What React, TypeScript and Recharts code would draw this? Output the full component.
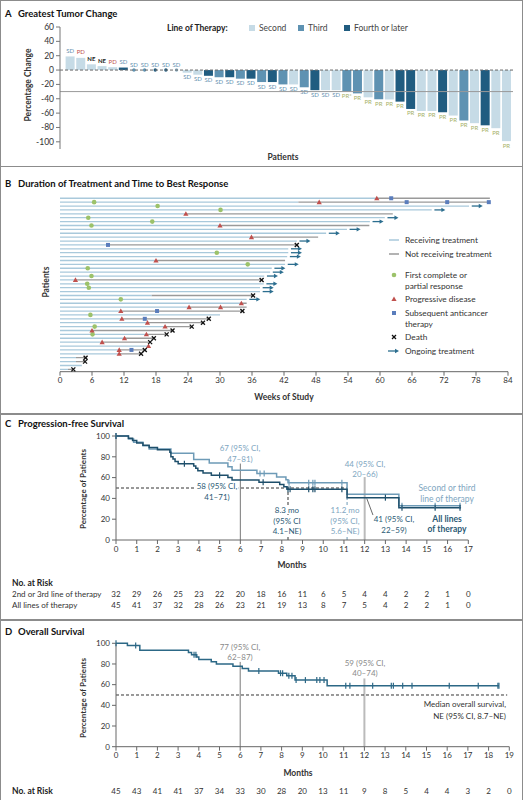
import React from "react";
import {
  BarChart,
  Bar,
  XAxis,
  YAxis,
  ReferenceLine,
  ComposedChart,
  Line,
  Scatter,
} from "recharts";

const FONT = "Lato, 'Open Sans', sans-serif";

// ---------- A: greatest tumor change ----------
const tumorChange = [
  19, 17, 8, 5.5, 4, 3.5, 0, 0, 0, 0, 0, -3.7, -6.5, -8, -10, -10, -12, -12, -16.7, -16.7, -20,
  -20, -24, -28, -28, -28, -30, -32.5, -38, -40.7, -41, -44, -54.2, -57, -57, -58.8, -63.4, -70.3,
  -74, -77, -81, -99,
];
const therapyLine = [
  2, 2, 2, 2, 2, 4, 3, 3, 4, 4, 2, 2, 2, 4, 3, 4, 3, 4, 3, 4, 3, 2, 3, 4, 2, 2, 3, 3, 2, 3, 2, 4, 4,
  2, 2, 4, 2, 3, 2, 4, 2, 2,
];
const bestResponse = [
  "SD", "PD", "NE", "NE", "PD", "SD", "SD", "SD", "SD", "SD", "SD", "SD", "SD", "SD", "SD", "SD",
  "SD", "SD", "SD", "SD", "SD", "SD", "SD", "SD", "SD", "SD", "PR*", "PR", "PR", "PR", "PR", "PR",
  "PR", "PR", "PR", "PR", "PR", "PR", "PR", "PR", "PR", "PR",
];
const changeTicks = [-100, -80, -60, -40, -20, 0, 20, 40, 60];

// ---------- B: duration of treatment ----------
const onTreatment = [
  59.4, 44.7, 76.7, 69.7, 23.6, 60.9, 58.1, 30, 53.8, 49.9, 35.9, 44.4, 9, 42.8, 42.8, 42.6, 18,
  42.2, 39.7, 39.4, 38.3, 2.9, 38.2, 37.5, 37.5, 17.2, 35, 34, 24.2, 11.4, 30, 11.6, 16.4, 19.7, 6,
  16.2, 12.1, 7.9, 16.6, 11.1, 11.1, 3, 3, 4.1, 1.5,
];
const lastFollowUp = [
  80.6, 80.4, 76.7, 69.7, 62.4, 60.9, 58.1, 58, 53.8, 49.9, 48.4, 44.4, 44.4, 42.8, 42.8, 42.6,
  42.2, 42.2, 39.7, 39.4, 38.3, 37.8, 38.2, 37.5, 37.5, 36.2, 35, 35, 35, 34.2, 30, 27.9, 26.8,
  24.7, 21.1, 20, 17.6, 16.9, 16.6, 15.9, 15.2, 4.8, 4.7, 4.1, 2.5,
];
const ongoingRows = [2, 3, 5, 6, 8, 9, 11, 13, 14, 15, 17, 18, 19, 20, 22, 23, 24, 26];
const responseRows = [1, 2, 3, 5, 6, 7, 14, 17, 18, 20, 22, 23, 26, 30, 33, 35];
const responseWeeks = [6.4, 18.3, 30.1, 5.3, 17.3, 5.9, 29.4, 35.2, 5.2, 5.9, 5.1, 5.4, 11.4, 5.7, 6.5, 6.1];
const progressionRows = [0, 1, 4, 7, 10, 16, 21, 27, 28, 28, 29, 31, 32, 33, 34, 35, 36, 37, 38, 39, 40];
const progressionWeeks = [
  59.4, 48.6, 23.6, 30, 35.9, 18, 2.9, 34, 24.2, 30.1, 11.4, 11.6, 16.4, 19.7, 6, 16.2, 12.1, 7.9,
  16.6, 11.1, 11.1,
];
const therapyRows = [0, 1, 1, 1, 12, 29, 31, 39];
const therapyWeeks = [62.1, 65, 72.6, 80.4, 9, 18.2, 15.9, 13.4];
const deathRows = [12, 21, 25, 29, 31, 32, 33, 34, 35, 36, 37, 39, 40, 41, 42, 44];
const deathWeeks = [44.4, 37.8, 36.2, 34.2, 27.9, 26.8, 24.7, 21.1, 20, 17.6, 16.9, 15.9, 15.2, 4.8, 4.7, 2.5];
const weekTicks = [0, 6, 12, 18, 24, 30, 36, 42, 48, 54, 60, 66, 72, 78, 84];

// ---------- C: progression-free survival ----------
const pfs23Times = [0, 0.6, 0.85, 1.3, 1.6, 2.65, 3.75, 4.5, 5.4, 5.6, 6.8, 7.75, 8.2, 8.3, 11.15, 13.65, 16.65];
const pfs23Surv = [100, 97, 94, 90.6, 87.5, 83.5, 77.5, 74, 70.5, 67, 64, 60.5, 58, 55, 44, 33, 33];
const pfs23Censor = [0, 6.95, 7.15, 8.35, 9.3, 9.5, 9.6, 10.9, 13.8, 15.4, 16.6];
const pfsAllTimes = [
  0, 0.6, 0.8, 1.0, 1.3, 1.6, 2.0, 2.6, 2.65, 2.75, 2.85, 3.0, 3.75, 3.85, 3.95, 4.2, 4.6, 5.4, 5.6,
  6.9, 7.9, 8.1, 8.25, 11.15, 13.65, 16.65,
];
const pfsAllSurv = [
  100, 97.8, 95.6, 93.3, 91.1, 88.9, 86.7, 84.4, 80, 77.8, 75.6, 73.3, 71.1, 68.9, 66.7, 64.4, 62.2,
  60, 57.8, 55.6, 53.3, 51.1, 48.9, 40.7, 31, 31,
];
const pfsAllCensor = [0, 3.3, 5.0, 7.1, 8.3, 8.4, 9.3, 9.5, 9.6, 10.9, 13.0, 13.8, 15.4, 16.6];
const pfsMonths = [0, 1, 2, 3, 4, 5, 6, 7, 8, 9, 10, 11, 12, 13, 14, 15, 16, 17];
const pfsRisk23 = [32, 29, 26, 25, 23, 22, 20, 18, 16, 11, 6, 5, 4, 4, 2, 2, 1, 0];
const pfsRiskAll = [45, 41, 37, 32, 28, 26, 23, 21, 19, 13, 8, 7, 5, 4, 2, 2, 1, 0];

// ---------- D: overall survival ----------
const osTimes = [0, 0.55, 1.15, 3.5, 3.65, 3.9, 4.0, 4.6, 4.85, 5.65, 6.1, 6.4, 7.85, 8.25, 8.65, 10.2, 18.5];
const osSurv = [100, 97.8, 93.3, 91.1, 88.9, 86.7, 84.4, 82.2, 80, 77.8, 75.6, 73.3, 71.1, 68.5, 64.4, 59, 59];
const osCensor = [
  0, 0.95, 3.77, 3.86, 6.9, 7.95, 8.05, 8.35, 8.5, 8.7, 9.15, 9.7, 9.85, 10.05, 11.1, 11.3, 12.4,
  13.3, 13.4, 13.85, 14.3, 16.1, 17.5, 18.45, 18.5,
];
const osMonths = [0, 1, 2, 3, 4, 5, 6, 7, 8, 9, 10, 11, 12, 13, 14, 15, 16, 17, 18, 19];
const osRisk = [45, 43, 41, 41, 37, 34, 33, 30, 28, 20, 13, 11, 9, 8, 5, 4, 4, 3, 2, 0];
const pctTicks = [0, 20, 40, 60, 80, 100];

// ---------- colours ----------
const lineColors: Record<number, string> = { 2: "#c6dbe6", 3: "#5e92b2", 4: "#205c80" };
const RECV = "#a9c9db";
const OFF = "#9a9a9a";
const GREEN = "#9cc26a";
const RED = "#c0504d";
const BLUE = "#5a7dbc";
const ARROW = "#2c6e8f";
const LIGHT = "#6e9bb7";
const DARK = "#1e4f6b";
const LIGHT_TXT = "#7ea6bf";
const DARK_TXT = "#2b5a75";
const AXIS = "#666";

const tick = { fontSize: 8, fill: "#333", fontFamily: FONT };

type TxtProps = {
  x: number;
  y: number;
  children: React.ReactNode;
  align?: "left" | "center" | "right";
  size?: number;
  color?: string;
  bold?: boolean;
  rotate?: boolean;
  bg?: boolean;
};

const Txt = ({ x, y, children, align = "left", size = 8, color = "#333", bold = false, rotate = false, bg = false }: TxtProps) => {
  const tx = align === "center" ? "-50%" : align === "right" ? "-100%" : "0";
  return (
    <div
      style={{
        position: "absolute",
        left: x,
        top: y,
        transform: rotate ? "translate(-50%,-50%) rotate(-90deg)" : `translate(${tx},-50%)`,
        fontSize: size,
        fontWeight: bold ? 700 : 400,
        color,
        whiteSpace: "nowrap",
        lineHeight: 1,
        fontFamily: FONT,
        background: bg ? "#fff" : "transparent",
        padding: bg ? "0 1px" : 0,
      }}
    >
      {children}
    </div>
  );
};

const Title = ({ y, letter, text }: { y: number; letter: string; text: string }) => (
  <>
    <Txt x={5} y={y} size={9.5} bold color="#111">
      {letter}
    </Txt>
    <Txt x={18} y={y} size={9.5} bold color="#111">
      {text}
    </Txt>
  </>
);

// ---------- panel A ----------
const tumorData = tumorChange.map((v, i) => ({
  id: i + 1,
  value: v,
  line: therapyLine[i],
  resp: bestResponse[i],
}));

const respColor = (r: string) =>
  r === "PD" ? RED : r === "NE" ? "#222" : r.startsWith("PR") ? "#a6b168" : "#6491b0";

const TumorBar = (p: any) => {
  const { x, y, width, height, payload } = p;
  const top = Math.min(y, y + height);
  const bottom = Math.max(y, y + height);
  const cx = x + width / 2;
  const fill = lineColors[payload.line];
  const r = payload.resp;
  const ly = payload.value < 0 ? bottom + 6.5 : top - 3.5;
  return (
    <g>
      {bottom - top > 0 && <rect x={x} y={top} width={width} height={bottom - top} fill={fill} />}
      {payload.value === 0 && <circle cx={cx} cy={top} r={1.7} fill={payload.line === 2 ? "#8fb3c8" : fill} />}
      <text
        x={cx}
        y={ly}
        textAnchor="middle"
        fontSize={6}
        fontWeight={r === "NE" ? 700 : 400}
        fill={respColor(r)}
        fontFamily={FONT}
      >
        {r}
      </text>
    </g>
  );
};

const PanelA = () => (
  <>
    <Title y={14} letter="A" text="Greatest Tumor Change" />
    <div style={{ position: "absolute", left: 0, top: 0 }}>
      <BarChart
        width={523}
        height={165}
        data={tumorData}
        margin={{ top: 27, right: 10, left: 0, bottom: 16 }}
        barCategoryGap={0.6}
      >
        <XAxis dataKey="id" tick={false} tickLine={false} height={0} axisLine={{ stroke: AXIS }} padding={{ left: 5, right: 1 }} />
        <YAxis
          width={60}
          domain={[-110, 60]}
          ticks={changeTicks}
          interval={0}
          tickSize={4}
          tick={{ ...tick, fontSize: 8.5 }}
          axisLine={{ stroke: "#777" }}
          tickLine={{ stroke: "#777" }}
        />
        <ReferenceLine y={-30} stroke="#9a9a9a" strokeWidth={1} />
        <Bar dataKey="value" shape={TumorBar} isAnimationActive={false} />
        <ReferenceLine y={0} stroke="#666" strokeDasharray="3 2" />
      </BarChart>
    </div>
    <Txt x={28} y={85} rotate bold size={8.5}>
      Percentage Change
    </Txt>
    <Txt x={283} y={157} align="center" bold size={8.5}>
      Patients
    </Txt>
    <Txt x={167} y={28} bold size={8.5} color="#222">
      Line of Therapy:
    </Txt>
    {[
      { x: 249, label: "Second", c: lineColors[2] },
      { x: 298, label: "Third", c: lineColors[3] },
      { x: 344, label: "Fourth or later", c: lineColors[4] },
    ].map((l) => (
      <React.Fragment key={l.label}>
        <div style={{ position: "absolute", left: l.x, top: 25, width: 5.5, height: 5.5, background: l.c }} />
        <Txt x={l.x + 10} y={28} size={8.5} color="#444">
          {l.label}
        </Txt>
      </React.Fragment>
    ))}
  </>
);

// ---------- panel B ----------
const recvSegments = onTreatment.flatMap((end, row) => [
  { w: 0, row },
  { w: end, row },
  { w: end, row: null },
]);
const offSegments = lastFollowUp.flatMap((end, row) =>
  end > onTreatment[row]
    ? [
        { w: onTreatment[row], row },
        { w: end, row },
        { w: end, row: null },
      ]
    : []
);
const arrowPts = ongoingRows.map((row) => ({ w: lastFollowUp[row] + 0.5, row }));
const responsePts = responseRows.map((row, i) => ({ w: responseWeeks[i], row }));
const progressionPts = progressionRows.map((row, i) => ({ w: progressionWeeks[i], row }));
const therapyPts = therapyRows.map((row, i) => ({ w: therapyWeeks[i], row }));
const deathPts = deathRows.map((row, i) => ({ w: deathWeeks[i], row }));

const DotShape = (p: any) => <circle cx={p.cx} cy={p.cy} r={2.3} fill={GREEN} />;
const TriShape = (p: any) => (
  <path d={`M${p.cx},${p.cy - 2.6}L${p.cx + 2.6},${p.cy + 2}L${p.cx - 2.6},${p.cy + 2}Z`} fill={RED} />
);
const SqShape = (p: any) => <rect x={p.cx - 2} y={p.cy - 2} width={4} height={4} fill={BLUE} />;
const CrossShape = (p: any) => (
  <g stroke="#111" strokeWidth={1.3}>
    <line x1={p.cx - 2} y1={p.cy - 2} x2={p.cx + 2} y2={p.cy + 2} />
    <line x1={p.cx - 2} y1={p.cy + 2} x2={p.cx + 2} y2={p.cy - 2} />
  </g>
);
const ArrowShape = (p: any) => (
  <g>
    <line x1={p.cx} y1={p.cy} x2={p.cx + 8} y2={p.cy} stroke={ARROW} strokeWidth={1.3} />
    <path d={`M${p.cx + 11},${p.cy}L${p.cx + 7},${p.cy - 2.2}L${p.cx + 7},${p.cy + 2.2}Z`} fill={ARROW} />
  </g>
);

const LegendGlyph = ({ y, kind }: { y: number; kind: string }) => (
  <svg style={{ position: "absolute", left: 388, top: y - 5 }} width={12} height={10}>
    {kind === "recv" && <line x1={1} y1={5} x2={11} y2={5} stroke={RECV} strokeWidth={1.5} />}
    {kind === "off" && <line x1={1} y1={5} x2={11} y2={5} stroke={OFF} strokeWidth={1.5} />}
    {kind === "dot" && <DotShape cx={6} cy={5} />}
    {kind === "tri" && <TriShape cx={6} cy={5} />}
    {kind === "sq" && <SqShape cx={6} cy={5} />}
    {kind === "x" && <CrossShape cx={6} cy={5} />}
    {kind === "arrow" && <ArrowShape cx={0} cy={5} />}
  </svg>
);

const PanelB = () => (
  <>
    <Title y={184} letter="B" text="Duration of Treatment and Time to Best Response" />
    <div style={{ position: "absolute", left: 0, top: 170 }}>
      <ComposedChart width={523} height={230} margin={{ top: 26.7, right: 15, left: 60, bottom: 8.3 }}>
        <XAxis
          type="number"
          dataKey="w"
          domain={[0, 84]}
          ticks={weekTicks}
          interval={0}
          tickSize={4}
          height={20}
          tick={tick}
          axisLine={{ stroke: AXIS }}
          tickLine={{ stroke: AXIS }}
        />
        <YAxis
          type="number"
          dataKey="row"
          domain={[-0.4, 44.6]}
          reversed
          width={0}
          tick={false}
          tickLine={false}
          axisLine={{ stroke: "#999" }}
        />
        <Line data={recvSegments} dataKey="row" stroke={RECV} strokeWidth={1.3} dot={false} activeDot={false} isAnimationActive={false} />
        <Line data={offSegments} dataKey="row" stroke={OFF} strokeWidth={1.3} dot={false} activeDot={false} isAnimationActive={false} />
        <Scatter data={arrowPts} shape={ArrowShape} isAnimationActive={false} />
        <Scatter data={responsePts} shape={DotShape} isAnimationActive={false} />
        <Scatter data={progressionPts} shape={TriShape} isAnimationActive={false} />
        <Scatter data={therapyPts} shape={SqShape} isAnimationActive={false} />
        <Scatter data={deathPts} shape={CrossShape} isAnimationActive={false} />
      </ComposedChart>
    </div>
    <Txt x={46} y={282} rotate bold size={8.5}>
      Patients
    </Txt>
    <Txt x={284} y={397} align="center" bold size={8.5}>
      Weeks of Study
    </Txt>
    <LegendGlyph y={240} kind="recv" />
    <Txt x={405} y={240} size={8.3}>Receiving treatment</Txt>
    <LegendGlyph y={254} kind="off" />
    <Txt x={405} y={254} size={8.3}>Not receiving treatment</Txt>
    <LegendGlyph y={275} kind="dot" />
    <Txt x={405} y={275} size={8.3}>First complete or</Txt>
    <Txt x={405} y={286} size={8.3}>partial response</Txt>
    <LegendGlyph y={299} kind="tri" />
    <Txt x={405} y={299} size={8.3}>Progressive disease</Txt>
    <LegendGlyph y={313} kind="sq" />
    <Txt x={405} y={313} size={8.3}>Subsequent anticancer</Txt>
    <Txt x={405} y={324} size={8.3}>therapy</Txt>
    <LegendGlyph y={337} kind="x" />
    <Txt x={405} y={337} size={8.3}>Death</Txt>
    <LegendGlyph y={351} kind="arrow" />
    <Txt x={405} y={351} size={8.3}>Ongoing treatment</Txt>
  </>
);

// ---------- KM helpers ----------
const stepAt = (times: number[], surv: number[], t: number) => {
  let v = surv[0];
  times.forEach((tt, i) => {
    if (tt <= t) v = surv[i];
  });
  return v;
};
const kmCurve = (times: number[], surv: number[]) => times.map((t, i) => ({ t, s: surv[i] }));
const kmCensor = (times: number[], surv: number[], cens: number[]) =>
  cens.map((t) => ({ t, s: stepAt(times, surv, t) }));
const censorShape = (color: string) => (p: any) =>
  <line x1={p.cx} y1={p.cy - 3} x2={p.cx} y2={p.cy + 3} stroke={color} strokeWidth={1.2} />;

const KM_LEFT = 116;

// ---------- panel C ----------
const C_RIGHT = 54.7;
const cStep = (523 - KM_LEFT - C_RIGHT) / 17;

const PanelC = () => (
  <>
    <Title y={424} letter="C" text="Progression-free Survival" />
    <div style={{ position: "absolute", left: 0, top: 400 }}>
      <ComposedChart width={523} height={164} margin={{ top: 36, right: C_RIGHT, left: KM_LEFT - 30, bottom: 0 }}>
        <XAxis
          type="number"
          dataKey="t"
          domain={[0, 17]}
          ticks={pfsMonths}
          interval={0}
          tickSize={4}
          height={24}
          tick={tick}
          axisLine={{ stroke: AXIS }}
          tickLine={{ stroke: AXIS }}
        />
        <YAxis
          type="number"
          dataKey="s"
          domain={[0, 100]}
          ticks={pctTicks}
          interval={0}
          width={30}
          tickSize={4}
          tick={tick}
          axisLine={{ stroke: AXIS }}
          tickLine={{ stroke: AXIS }}
        />
        <ReferenceLine segment={[{ x: 6, y: 0 }, { x: 6, y: 73.5 }]} stroke="#777" strokeWidth={1} />
        <ReferenceLine segment={[{ x: 12, y: 0 }, { x: 12, y: 60.5 }]} stroke="#bbb" strokeWidth={2} />
        <ReferenceLine segment={[{ x: 0, y: 50 }, { x: 11.15, y: 50 }]} stroke="#333" strokeDasharray="3 2" />
        <ReferenceLine segment={[{ x: 8.3, y: 0 }, { x: 8.3, y: 50 }]} stroke="#333" strokeDasharray="3 2" />
        <ReferenceLine segment={[{ x: 11.15, y: 0 }, { x: 11.15, y: 44 }]} stroke={LIGHT} strokeDasharray="3 2" />
        <ReferenceLine segment={[{ x: 12.1, y: 40 }, { x: 12.4, y: 24 }]} stroke="#444" strokeWidth={0.8} />
        <Line data={kmCurve(pfs23Times, pfs23Surv)} dataKey="s" type="stepAfter" stroke={LIGHT} strokeWidth={1.5} dot={false} activeDot={false} isAnimationActive={false} />
        <Line data={kmCurve(pfsAllTimes, pfsAllSurv)} dataKey="s" type="stepAfter" stroke={DARK} strokeWidth={1.5} dot={false} activeDot={false} isAnimationActive={false} />
        <Scatter data={kmCensor(pfs23Times, pfs23Surv, pfs23Censor)} shape={censorShape(LIGHT)} isAnimationActive={false} />
        <Scatter data={kmCensor(pfsAllTimes, pfsAllSurv, pfsAllCensor)} shape={censorShape(DARK)} isAnimationActive={false} />
      </ComposedChart>
    </div>
    <Txt x={83} y={489} rotate bold size={8}>
      Percentage of Patients
    </Txt>
    <Txt x={292} y={565} align="center" bold size={8.5}>
      Months
    </Txt>
    <Txt x={240} y={447.5} align="center" color={LIGHT_TXT}>67 (95% CI,</Txt>
    <Txt x={240} y={459} align="center" color={LIGHT_TXT}>47–81)</Txt>
    <Txt x={217} y={486} align="center" color={DARK_TXT} bg>58 (95% CI,</Txt>
    <Txt x={217} y={496.5} align="center" color={DARK_TXT}>41–71)</Txt>
    <Txt x={365} y={463.5} align="center" color={LIGHT_TXT}>44 (95% CI,</Txt>
    <Txt x={365} y={474} align="center" color={LIGHT_TXT}>20–66)</Txt>
    <Txt x={287} y={510} align="center" color={DARK_TXT} bg>8.3 mo</Txt>
    <Txt x={287} y={520.5} align="center" color={DARK_TXT} bg>(95% CI</Txt>
    <Txt x={287} y={531} align="center" color={DARK_TXT} bg>4.1–NE)</Txt>
    <Txt x={345} y={510} align="center" color={LIGHT_TXT} bg>11.2 mo</Txt>
    <Txt x={345} y={520.5} align="center" color={LIGHT_TXT} bg>(95% CI,</Txt>
    <Txt x={345} y={531} align="center" color={LIGHT_TXT} bg>5.6–NE)</Txt>
    <Txt x={394} y={519} align="center" color={DARK_TXT}>41 (95% CI,</Txt>
    <Txt x={394} y={529.5} align="center" color={DARK_TXT}>22–59)</Txt>
    <Txt x={447} y={487.5} align="center" color={LIGHT_TXT} size={8.5}>Second or third</Txt>
    <Txt x={447} y={498.5} align="center" color={LIGHT_TXT} size={8.5}>line of therapy</Txt>
    <Txt x={447} y={518.5} align="center" color={DARK_TXT} bold size={8.5}>All lines</Txt>
    <Txt x={447} y={529} align="center" color={DARK_TXT} bold size={8.5}>of therapy</Txt>
    <Txt x={12} y={583} bold size={8.5} color="#222">No. at Risk</Txt>
    <Txt x={12} y={594} size={8}>2nd or 3rd line of therapy</Txt>
    <Txt x={12} y={605} size={8}>All lines of therapy</Txt>
    {pfsMonths.map((m, i) => (
      <React.Fragment key={m}>
        <Txt x={KM_LEFT + m * cStep} y={594} align="center">{pfsRisk23[i]}</Txt>
        <Txt x={KM_LEFT + m * cStep} y={605} align="center">{pfsRiskAll[i]}</Txt>
      </React.Fragment>
    ))}
  </>
);

// ---------- panel D ----------
const D_RIGHT = 13.7;
const dStep = (523 - KM_LEFT - D_RIGHT) / 19;
const OS = "#2c6886";

const PanelD = () => (
  <>
    <Title y={632} letter="D" text="Overall Survival" />
    <div style={{ position: "absolute", left: 0, top: 600 }}>
      <ComposedChart width={523} height={170.7} margin={{ top: 43.3, right: D_RIGHT, left: KM_LEFT - 30, bottom: 0 }}>
        <XAxis
          type="number"
          dataKey="t"
          domain={[0, 19]}
          ticks={osMonths}
          interval={0}
          tickSize={4}
          height={24}
          tick={tick}
          axisLine={{ stroke: AXIS }}
          tickLine={{ stroke: AXIS }}
        />
        <YAxis
          type="number"
          dataKey="s"
          domain={[0, 100]}
          ticks={pctTicks}
          interval={0}
          width={30}
          tickSize={4}
          tick={tick}
          axisLine={{ stroke: AXIS }}
          tickLine={{ stroke: AXIS }}
        />
        <ReferenceLine segment={[{ x: 6, y: 0 }, { x: 6, y: 82 }]} stroke="#777" strokeWidth={1} />
        <ReferenceLine segment={[{ x: 12, y: 0 }, { x: 12, y: 66 }]} stroke="#bbb" strokeWidth={2} />
        <ReferenceLine segment={[{ x: 0, y: 50 }, { x: 18.9, y: 50 }]} stroke="#333" strokeDasharray="3 2" />
        <Line data={kmCurve(osTimes, osSurv)} dataKey="s" type="stepAfter" stroke={OS} strokeWidth={1.5} dot={false} activeDot={false} isAnimationActive={false} />
        <Scatter data={kmCensor(osTimes, osSurv, osCensor)} shape={censorShape(OS)} isAnimationActive={false} />
      </ComposedChart>
    </div>
    <Txt x={83} y={698} rotate bold size={8}>
      Percentage of Patients
    </Txt>
    <Txt x={298} y={773} align="center" bold size={8.5}>
      Months
    </Txt>
    <Txt x={240} y={647} align="center" color="#8a8a8a">77 (95% CI,</Txt>
    <Txt x={240} y={657} align="center" color="#8a8a8a">62–87)</Txt>
    <Txt x={365} y={663} align="center" color="#8a8a8a">59 (95% CI,</Txt>
    <Txt x={365} y={673} align="center" color="#8a8a8a">40–74)</Txt>
    <Txt x={506} y={704} align="right">Median overall survival,</Txt>
    <Txt x={506} y={715.5} align="right">NE (95% CI, 8.7–NE)</Txt>
    <Txt x={12} y={791} bold size={8.5} color="#222">No. at Risk</Txt>
    {osMonths.map((m, i) => (
      <Txt key={m} x={KM_LEFT + m * dStep} y={791} align="center">{osRisk[i]}</Txt>
    ))}
  </>
);

const Frame = () => (
  <>
    <div style={{ position: "absolute", left: 0, top: 0, width: 521, height: 800, borderLeft: "1.5px solid #8c8c8c", borderRight: "1.5px solid #8c8c8c", borderTop: "1.5px solid #8c8c8c" }} />
    {[165.5, 413, 619].map((y) => (
      <div key={y} style={{ position: "absolute", left: 0, top: y, width: 523, height: 1.5, background: "#8c8c8c" }} />
    ))}
  </>
);

export default function App() {
  return (
    <div
      style={{
        position: "absolute",
        left: 0,
        top: 0,
        width: 523,
        height: 800,
        background: "#fff",
        overflow: "hidden",
        fontFamily: FONT,
      }}
    >
      <Frame />
      <PanelA />
      <PanelB />
      <PanelC />
      <PanelD />
    </div>
  );
}
